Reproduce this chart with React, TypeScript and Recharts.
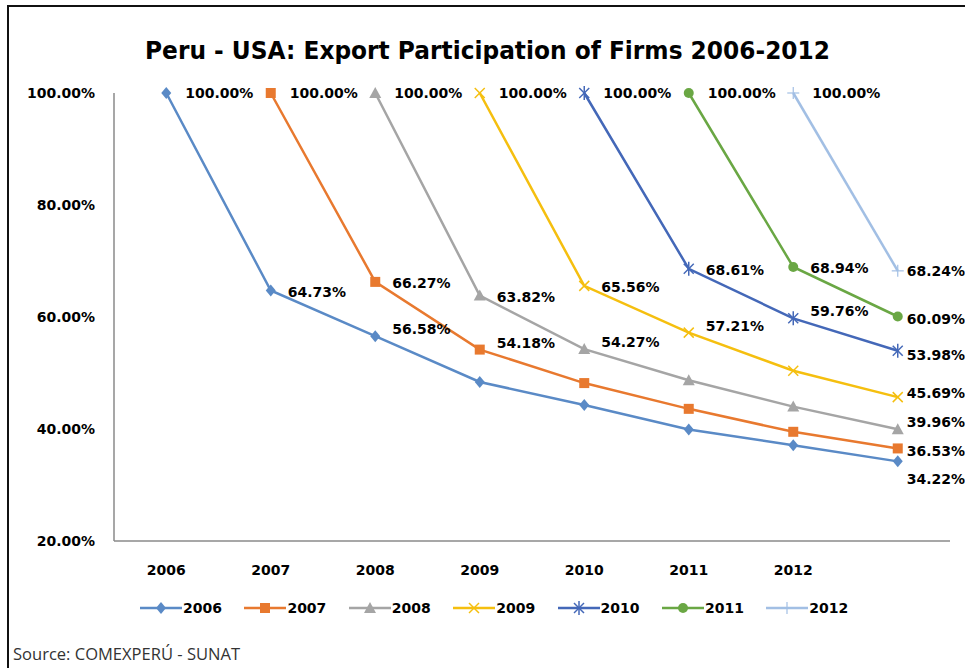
import React from 'react';
import { LineChart, Line, XAxis, YAxis, Legend, LabelList } from 'recharts';

const categories = ['2006', '2007', '2008', '2009', '2010', '2011', '2012', ''];
const s2006 = [100, 64.73, 56.58, 48.4, 44.3, 39.9, 37.1, 34.22];
const s2007 = [null, 100, 66.27, 54.18, 48.2, 43.6, 39.5, 36.53];
const s2008 = [null, null, 100, 63.82, 54.27, 48.7, 44.0, 39.96];
const s2009 = [null, null, null, 100, 65.56, 57.21, 50.4, 45.69];
const s2010 = [null, null, null, null, 100, 68.61, 59.76, 53.98];
const s2011 = [null, null, null, null, null, 100, 68.94, 60.09];
const s2012 = [null, null, null, null, null, null, 100, 68.24];
const seriesNames = ['2006', '2007', '2008', '2009', '2010', '2011', '2012'];
const seriesValues = [s2006, s2007, s2008, s2009, s2010, s2011, s2012];
const yTicks = [20, 40, 60, 80, 100];

const title = 'Peru - USA: Export Participation of Firms 2006-2012';
const source = 'Source: COMEXPERÚ - SUNAT';

const styles = [
  { color: '#5A8AC6', shape: 'diamond', lastDy: 18 },
  { color: '#E8792F', shape: 'square', lastDy: 3 },
  { color: '#A5A5A5', shape: 'triangle', lastDy: -7 },
  { color: '#F5BF0F', shape: 'x', lastDy: -4 },
  { color: '#4468B8', shape: 'star', lastDy: 4 },
  { color: '#6AA744', shape: 'circle', lastDy: 3 },
  { color: '#A2BFE4', shape: 'plus', lastDy: 0 },
];

const data = categories.map((c, i) => {
  const row: any = { year: c };
  seriesNames.forEach((n, k) => {
    row[n] = seriesValues[k][i];
  });
  return row;
});

const FONT = '"DejaVu Sans", Verdana, sans-serif';

function Marker({ shape, cx, cy, color }: any) {
  if (cx == null || cy == null) return <g />;
  switch (shape) {
    case 'diamond':
      return <polygon points={`${cx},${cy - 6} ${cx + 5},${cy} ${cx},${cy + 6} ${cx - 5},${cy}`} fill={color} />;
    case 'square':
      return <rect x={cx - 5} y={cy - 5} width={10} height={10} fill={color} />;
    case 'triangle':
      return <polygon points={`${cx},${cy - 6} ${cx + 6},${cy + 5} ${cx - 6},${cy + 5}`} fill={color} />;
    case 'x':
      return (
        <g stroke={color} strokeWidth={1.5}>
          <line x1={cx - 5} y1={cy - 5} x2={cx + 5} y2={cy + 5} />
          <line x1={cx - 5} y1={cy + 5} x2={cx + 5} y2={cy - 5} />
        </g>
      );
    case 'star':
      return (
        <g stroke={color} strokeWidth={1.5}>
          <line x1={cx - 5} y1={cy - 5} x2={cx + 5} y2={cy + 5} />
          <line x1={cx - 5} y1={cy + 5} x2={cx + 5} y2={cy - 5} />
          <line x1={cx} y1={cy - 7} x2={cx} y2={cy + 7} />
        </g>
      );
    case 'circle':
      return <circle cx={cx} cy={cy} r={5} fill={color} />;
    case 'plus':
      return (
        <g stroke={color} strokeWidth={1.2}>
          <line x1={cx - 6} y1={cy} x2={cx + 6} y2={cy} />
          <line x1={cx} y1={cy - 6} x2={cx} y2={cy + 6} />
        </g>
      );
    default:
      return <g />;
  }
}

const fmt = (v: number) => `${v.toFixed(2)}%`;

function makeLabel(k: number) {
  const vals = seriesValues[k];
  const start = vals.findIndex((v) => v != null);
  const last = vals.length - 1;
  return (props: any) => {
    const { x, y, value, index } = props;
    if (value == null || x == null || y == null) return null;
    const rel = index - start;
    if (!(rel < 3 || index === last)) return null;
    let dx = 17;
    let dy = 0;
    if (index === last) {
      dx = 9;
      dy = styles[k].lastDy;
    } else if (rel === 0) {
      dx = 19;
      dy = 0;
    } else if (rel === 1) {
      dy = 1;
    } else if (rel === 2) {
      dy = -7;
    }
    return (
      <text
        key={`lbl-${k}-${index}`}
        x={x + dx}
        y={y + dy}
        dominantBaseline="central"
        textAnchor="start"
        fontFamily={FONT}
        fontWeight="bold"
        fontSize={14}
        fill="#000"
      >
        {fmt(value)}
      </text>
    );
  };
}

function LegendContent() {
  return (
    <div style={{ display: 'flex', fontFamily: FONT }}>
      {seriesNames.map((n, k) => (
        <div key={n} style={{ width: 104.4, display: 'flex', alignItems: 'center', height: 20 }}>
          <svg width={42} height={20}>
            <line x1={0} y1={10} x2={42} y2={10} stroke={styles[k].color} strokeWidth={2.5} />
            <Marker shape={styles[k].shape} cx={21} cy={10} color={styles[k].color} />
          </svg>
          <span style={{ fontSize: 14, fontWeight: 'bold', color: '#000', marginLeft: 1 }}>{n}</span>
        </div>
      ))}
    </div>
  );
}

export default function App() {
  return (
    <div style={{ position: 'absolute', left: 0, top: 0, width: 965, height: 668, background: '#fff', overflow: 'hidden' }}>
      <LineChart width={965} height={668} data={data} margin={{ top: 93, right: 15, left: 24, bottom: 87 }}>
        <XAxis
          dataKey="year"
          scale="band"
          axisLine={{ stroke: '#8a8a8a', strokeWidth: 1.5 }}
          tickLine={false}
          tickSize={0}
          tickMargin={24}
          height={40}
          interval={0}
          tick={{ fontFamily: FONT, fontWeight: 'bold', fontSize: 14, fill: '#000' }}
        />
        <YAxis
          domain={[20, 100]}
          ticks={yTicks}
          tickFormatter={fmt}
          width={90}
          axisLine={{ stroke: '#8a8a8a', strokeWidth: 1.5 }}
          tickLine={false}
          tickSize={0}
          tickMargin={19}
          interval={0}
          tick={{ fontFamily: FONT, fontWeight: 'bold', fontSize: 14, fill: '#000' }}
        />
        <Legend
          layout="vertical"
          align="center"
          verticalAlign="middle"
          content={() => <LegendContent />}
          wrapperStyle={{ top: 598, left: 140, width: 760, height: 20 }}
        />
        {seriesNames.map((n, k) => (
          <Line
            key={n}
            dataKey={n}
            name={n}
            stroke={styles[k].color}
            strokeWidth={2.5}
            isAnimationActive={false}
            connectNulls={false}
            dot={(p: any) => <Marker key={`dot-${k}-${p.index}`} shape={styles[k].shape} cx={p.cx} cy={p.cy} color={styles[k].color} />}
            activeDot={false}
          >
            <LabelList dataKey={n} content={makeLabel(k)} />
          </Line>
        ))}
      </LineChart>
      <svg width={965} height={668} style={{ position: 'absolute', left: 0, top: 0, pointerEvents: 'none' }}>
        <line x1={8} y1={5} x2={8} y2={668} stroke="#111" strokeWidth={2} />
        <line x1={7} y1={6} x2={965} y2={6} stroke="#111" strokeWidth={2} />
        <text x={145} y={59} fontFamily={FONT} fontWeight="bold" fontSize={25} fill="#000" textLength={685} lengthAdjust="spacingAndGlyphs">
          {title}
        </text>
        <text x={13} y={660} fontFamily='"Open Sans", sans-serif' fontSize={16} fill="#333" textLength={227} lengthAdjust="spacingAndGlyphs">
          {source}
        </text>
      </svg>
    </div>
  );
}
